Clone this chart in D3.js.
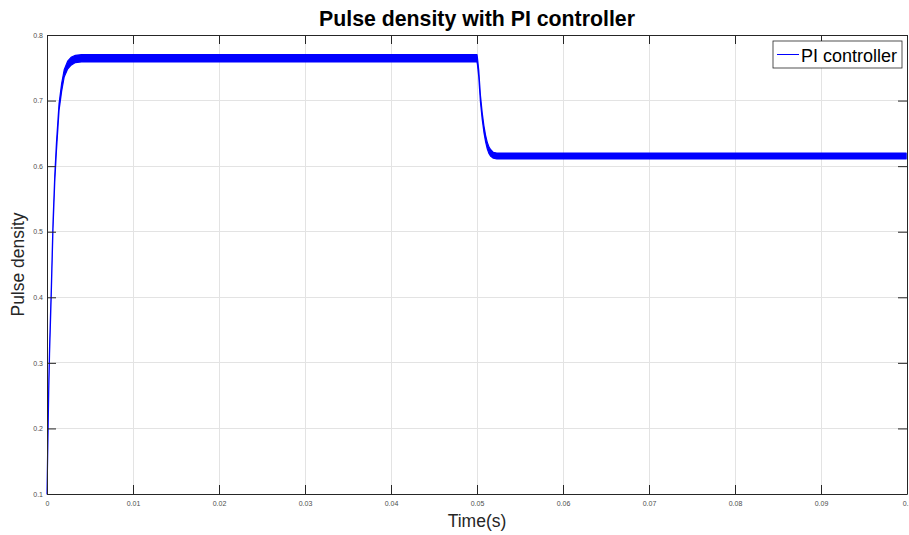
<!DOCTYPE html>
<html>
<head>
<meta charset="utf-8">
<script src="https://cdn.jsdelivr.net/npm/d3@7/dist/d3.min.js"></script>
<style>
  html, body { margin: 0; padding: 0; background: #fff; }
  svg { display: block; font-family: "Liberation Sans", Arial, Helvetica, sans-serif; }
</style>
</head>
<body>
<svg id="chart" width="909" height="535"></svg>
<script>
// Sampled pulse density trace: time (s) with the upper and lower edge of the
// switching ripple band at each instant.
const timeS = [0, 0.0001, 0.0002, 0.0003, 0.0005, 0.0007, 0.0009, 0.0011, 0.0014, 0.0017,
  0.0020, 0.0024, 0.0028, 0.0033, 0.0040, 0.0050, 0.0200, 0.0350, 0.0500,
  0.05005, 0.0502, 0.0503, 0.0504, 0.0506, 0.0508, 0.0510, 0.0512, 0.0514, 0.0516,
  0.0519, 0.0523, 0.0700, 0.0850, 0.0999];
const densityHigh = [0.100, 0.185, 0.265, 0.325, 0.415, 0.515, 0.585, 0.636, 0.695, 0.726,
  0.747, 0.760, 0.766, 0.769, 0.770, 0.770, 0.770, 0.770, 0.770,
  0.765, 0.747, 0.727, 0.708, 0.682, 0.662, 0.647, 0.636, 0.629, 0.625,
  0.621, 0.620, 0.620, 0.620, 0.620];
const densityLow = [0.100, 0.175, 0.255, 0.315, 0.405, 0.505, 0.575, 0.624, 0.685, 0.714,
  0.736, 0.748, 0.754, 0.758, 0.759, 0.759, 0.759, 0.759, 0.759,
  0.755, 0.737, 0.717, 0.698, 0.672, 0.652, 0.637, 0.626, 0.619, 0.615,
  0.612, 0.611, 0.611, 0.611, 0.611];

const xTicks = [0, 0.01, 0.02, 0.03, 0.04, 0.05, 0.06, 0.07, 0.08, 0.09, 0.1];
const xTickLabels = ["0", "0.01", "0.02", "0.03", "0.04", "0.05", "0.06", "0.07", "0.08", "0.09", "0.1"];
const yTicks = [0.1, 0.2, 0.3, 0.4, 0.5, 0.6, 0.7, 0.8];
const yTickLabels = ["0.1", "0.2", "0.3", "0.4", "0.5", "0.6", "0.7", "0.8"];

const titleText = "Pulse density with PI controller";
const xLabelText = "Time(s)";
const yLabelText = "Pulse density";
const seriesName = "PI controller";

const svg = d3.select("#chart");
const plotL = 47, plotR = 907, plotT = 35, plotB = 494;

const x = d3.scaleLinear().domain([0, 0.1]).range([plotL, plotR]);
const y = d3.scaleLinear().domain([0.1, 0.8]).range([plotB, plotT]);

// Grid
const grid = svg.append("g");
grid.selectAll("line.vx").data(xTicks).join("line")
  .attr("x1", d => x(d)).attr("x2", d => x(d))
  .attr("y1", plotT).attr("y2", plotB)
  .attr("stroke", "#e3e3e3").attr("stroke-width", 1)
  .attr("shape-rendering", "crispEdges");
grid.selectAll("line.hy").data(yTicks).join("line")
  .attr("x1", plotL).attr("x2", plotR)
  .attr("y1", d => y(d)).attr("y2", d => y(d))
  .attr("stroke", "#e3e3e3").attr("stroke-width", 1)
  .attr("shape-rendering", "crispEdges");

// Trace: ripple band
const band = d3.area()
  .x((d, i) => x(timeS[i]))
  .y0((d, i) => y(densityLow[i]))
  .y1((d, i) => y(densityHigh[i]));
svg.append("path")
  .datum(timeS)
  .attr("d", band)
  .attr("fill", "#0000ff")
  .attr("stroke", "#0000ff")
  .attr("stroke-width", 1.2)
  .attr("stroke-linejoin", "round");

// Axes with inward ticks, boxed
function styleAxis(g) {
  g.selectAll(".domain").attr("stroke", "#262626").attr("stroke-width", 1);
  g.selectAll(".tick line").attr("stroke", "#262626").attr("stroke-width", 1);
  g.selectAll("text").attr("fill", "#4d4d4d").attr("font-size", "7px")
    .attr("font-family", "'Liberation Sans', Arial, sans-serif");
}
const xAxis = svg.append("g").attr("transform", `translate(0,${plotB})`)
  .call(d3.axisBottom(x).tickValues(xTicks).tickFormat((d, i) => xTickLabels[i])
    .tickSizeInner(-9).tickSizeOuter(0).tickPadding(7));
styleAxis(xAxis);
const xAxisTop = svg.append("g").attr("transform", `translate(0,${plotT})`)
  .call(d3.axisTop(x).tickValues(xTicks).tickFormat("").tickSizeInner(-9).tickSizeOuter(0));
styleAxis(xAxisTop);
const yAxis = svg.append("g").attr("transform", `translate(${plotL},0)`)
  .call(d3.axisLeft(y).tickValues(yTicks).tickFormat((d, i) => yTickLabels[i])
    .tickSizeInner(-9).tickSizeOuter(0).tickPadding(4));
styleAxis(yAxis);
const yAxisRight = svg.append("g").attr("transform", `translate(${plotR},0)`)
  .call(d3.axisRight(y).tickValues(yTicks).tickFormat("").tickSizeInner(-9).tickSizeOuter(0));
styleAxis(yAxisRight);

// Title and axis labels
svg.append("text").attr("x", (plotL + plotR) / 2).attr("y", 26)
  .attr("text-anchor", "middle").attr("font-weight", "bold").attr("font-size", "21.3px")
  .attr("fill", "#000").text(titleText);
svg.append("text").attr("x", (plotL + plotR) / 2).attr("y", 527)
  .attr("text-anchor", "middle").attr("font-size", "17.5px").attr("fill", "#262626")
  .text(xLabelText);
svg.append("text")
  .attr("transform", `translate(24,${(plotT + plotB) / 2}) rotate(-90)`)
  .attr("text-anchor", "middle").attr("font-size", "17.5px").attr("fill", "#262626")
  .text(yLabelText);

// Legend
const lg = svg.append("g");
lg.append("rect").attr("x", 773).attr("y", 41).attr("width", 129).attr("height", 27)
  .attr("fill", "#fff").attr("stroke", "#262626").attr("stroke-width", 0.8);
lg.append("line").attr("x1", 777).attr("x2", 799).attr("y1", 54.5).attr("y2", 54.5)
  .attr("stroke", "#0000ff").attr("stroke-width", 1);
lg.append("text").attr("x", 801).attr("y", 61.5).attr("font-size", "18px")
  .attr("fill", "#000").text(seriesName);
</script>
</body>
</html>
